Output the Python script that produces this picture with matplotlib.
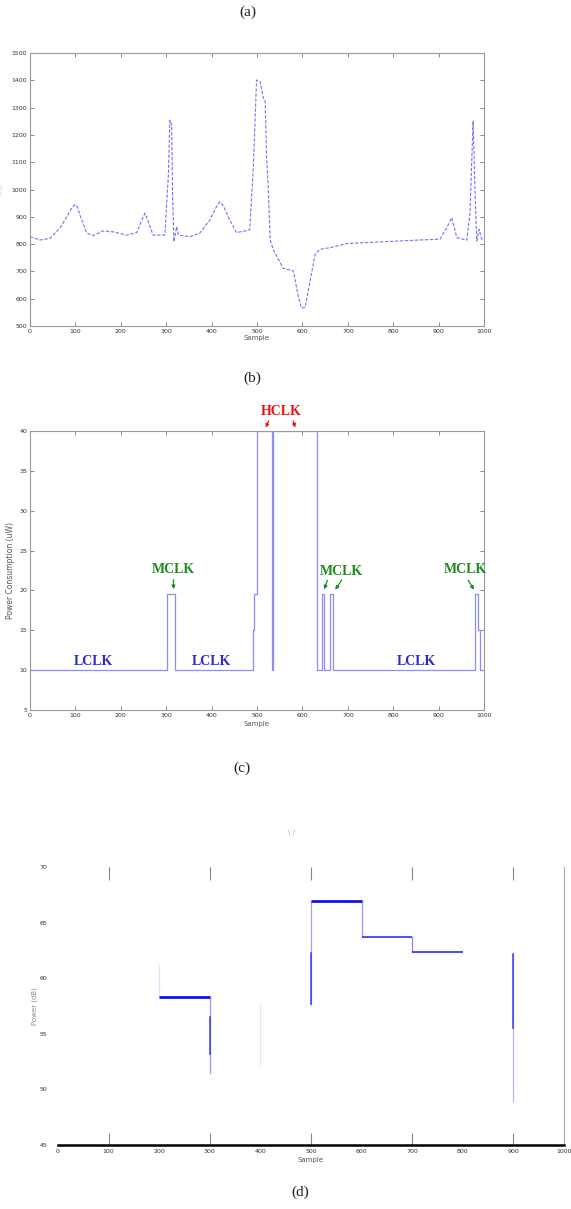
import matplotlib.pyplot as plt
import numpy as np

# (b) ECG-like trace, sample index vs value
ecg_x = [0, 22, 44, 66, 81, 91, 99, 105, 110, 125, 139, 161, 183, 213, 235, 248, 253,
         259, 271, 297, 305, 308, 312, 314, 317, 323, 327, 352, 374, 396, 410, 418,
         426, 440, 455, 484, 492, 499, 507, 514, 518, 521, 525, 529, 536, 558, 580,
         591, 598, 606, 617, 628, 639, 661, 698, 771, 844, 903, 918, 929, 940, 962,
         969, 973, 976, 980, 984, 989, 995, 1000]
ecg_y = [827, 815, 821, 858, 900, 930, 945, 935, 906, 840, 831, 848, 845, 833, 842, 895, 913,
         890, 833, 833, 1059, 1254, 1236, 986, 809, 864, 833, 827, 840, 888, 935, 955,
         940, 888, 842, 852, 1084, 1401, 1395, 1334, 1322, 1120, 1004, 815, 779, 711, 702,
         608, 566, 568, 665, 763, 781, 787, 802, 808, 814, 818, 860, 897, 824, 814,
         909, 1105, 1251, 1007, 811, 854, 818, 818]

# (c) power consumption steps (uW)
pc_x = [0, 302, 319, 491, 494, 499, 532, 536, 632, 643, 648, 661, 668, 980, 987, 992, 1000]
pc_y = [10, 19.6, 10, 15, 19.6, 40, 10, 40, 10, 19.6, 10, 19.6, 10, 19.6, 15, 10, 10]

# (d) power (dB) levels per block
blk_start = [200, 500, 600, 700]
blk_end = [300, 600, 700, 800]
blk_level = [58.3, 66.9, 63.7, 62.4]
vert_x = [200, 300, 400, 500, 600, 700, 900]
vert_lo = [58.3, 51.5, 52.1, 57.7, 63.7, 62.4, 49.0]
vert_hi = [61.2, 58.3, 57.7, 66.9, 66.9, 63.7, 62.2]
vert_alpha = [0.15, 0.5, 0.12, 0.45, 0.5, 0.6, 0.35]
dark_lo = [None, 53.2, None, 57.7, None, None, 55.5]
dark_hi = [None, 56.5, None, 62.3, None, None, 62.2]

xticks = np.arange(0, 1001, 100)
odd_ticks = [100, 300, 500, 700, 900]
even_ticks = [0, 200, 400, 600, 800, 1000]

fig = plt.figure(figsize=(5.71, 12.09), dpi=100)
serif = 'Liberation Serif'
tick_col = '#333333'


def matlab_axes(ax):
    for s in ax.spines.values():
        s.set_color('#999999')
        s.set_linewidth(0.8)
    ax.tick_params(direction='in', length=3, width=0.6, color='#777777',
                   labelsize=4.5, labelcolor=tick_col, top=True, right=True, pad=2)


# ---- (b)
ax1 = fig.add_axes([30/571, 1-326/1209, 454/571, 273/1209])
ax1.plot(ecg_x, ecg_y, color='#5a5aee', lw=0.8, ls=(0, (3, 1.5)), alpha=0.85)
ax1.set_xlim(0, 1000)
ax1.set_ylim(500, 1500)
ax1.set_xticks(xticks)
ax1.set_yticks(np.arange(500, 1501, 100))
matlab_axes(ax1)
ax1.set_xlabel('Sample', fontsize=5, color='#555555', labelpad=1)
ax1.set_ylabel('ECG', fontsize=4, color='#cccccc', labelpad=6)

# ---- (c)
ax2 = fig.add_axes([30/571, 1-710/1209, 454/571, 279/1209])
ax2.step(pc_x, pc_y, where='post', color='#8c8cff', lw=0.9)
ax2.set_xlim(0, 1000)
ax2.set_ylim(5, 40)
ax2.set_xticks(xticks)
ax2.set_yticks(np.arange(5, 41, 5))
matlab_axes(ax2)
ax2.set_xlabel('Sample', fontsize=5, color='#555555', labelpad=2)
ax2.set_ylabel('Power Consumption (uW)', fontsize=5.5, color='#555555', labelpad=3)

lclk = dict(color='#2a2ad0', fontsize=10, fontweight='bold', family=serif,
            ha='center', va='center')
ax2.text(139, 11.1, 'LCLK', **lclk)
ax2.text(400, 11.1, 'LCLK', **lclk)
ax2.text(852, 11.1, 'LCLK', **lclk)

green = '#1e8a1e'
mclk = dict(color=green, fontsize=10, fontweight='bold', family=serif,
            ha='center', va='center')
arw = dict(arrowstyle='-|>', color=green, lw=0.9, mutation_scale=5)
ax2.text(315, 22.6, 'MCLK', **mclk)
ax2.annotate('', xy=(316, 19.8), xytext=(316, 21.7), arrowprops=arw)
ax2.text(685, 22.4, 'MCLK', **mclk)
ax2.annotate('', xy=(646, 19.8), xytext=(657, 21.6), arrowprops=arw)
ax2.annotate('', xy=(669, 19.8), xytext=(690, 21.6), arrowprops=arw)
ax2.text(958, 22.6, 'MCLK', **mclk)
ax2.annotate('', xy=(981, 19.8), xytext=(962, 21.6), arrowprops=arw)

red = '#ee1111'
arr = dict(arrowstyle='-|>', color=red, lw=0.9, mutation_scale=5)
ax2.text(553, 42.4, 'HCLK', color=red, fontsize=10, fontweight='bold',
         family=serif, ha='center', va='center', clip_on=False)
ax2.annotate('', xy=(517, 40.1), xytext=(528, 41.6), arrowprops=arr,
             annotation_clip=False)
ax2.annotate('', xy=(586, 40.1), xytext=(578, 41.6), arrowprops=arr,
             annotation_clip=False)

# ---- (d)
ax3 = fig.add_axes([58/571, 1-1145/1209, 506/571, 278/1209])
for x0, x1, lv, i in zip(blk_start, blk_end, blk_level, range(4)):
    ax3.plot([x0, x1], [lv, lv], color='#1414e6' if i < 2 else '#4c4cff',
             lw=2.0 if i < 2 else 1.4, solid_capstyle='butt')
for x, lo, hi, a, dlo, dhi in zip(vert_x, vert_lo, vert_hi, vert_alpha, dark_lo, dark_hi):
    ax3.plot([x, x], [lo, hi], color='#3030ff', lw=0.9, alpha=a)
    if dlo is not None:
        ax3.plot([x, x], [dlo, dhi], color='#2020ee', lw=1.1, alpha=0.85)
ax3.set_xlim(0, 1000)
ax3.set_ylim(45, 70)
# in the scan only the odd hundreds keep a visible tick mark
ax3.set_xticks(odd_ticks, labels=[str(v) for v in odd_ticks])
ax3.set_xticks(even_ticks, labels=[str(v) for v in even_ticks], minor=True)
ax3.set_yticks(np.arange(45, 71, 5))
ax3.spines['left'].set_visible(False)
ax3.spines['top'].set_visible(False)
ax3.spines['right'].set_color('#aaaaaa')
ax3.spines['right'].set_linewidth(0.8)
ax3.spines['bottom'].set_color('black')
ax3.spines['bottom'].set_linewidth(1.8)
ax3.tick_params(axis='x', which='major', direction='in', length=9, width=0.8,
                color='#888888', top=True, labelsize=4.5, labelcolor=tick_col, pad=3)
ax3.tick_params(axis='x', which='minor', direction='in', length=0,
                top=False, labelsize=4.5, labelcolor=tick_col, pad=3)
ax3.tick_params(axis='y', left=False, right=False, labelsize=4.5,
                labelcolor=tick_col, pad=4)
ax3.set_xlabel('Sample', fontsize=5, color='#555555', labelpad=2)
ax3.set_ylabel('Power (dB)', fontsize=5, color='#888888', labelpad=1)

# panel captions
cap = dict(fontsize=11, family=serif, ha='center', va='center', color='#222222')
fig.text(248/571, 1-12/1209, '(a)', **cap)
fig.text(252/571, 1-378/1209, '(b)', **cap)
fig.text(242/571, 1-768/1209, '(c)', **cap)
fig.text(300/571, 1-1192/1209, '(d)', **cap)
fig.text(291/571, 1-833/1209, '\\ /', fontsize=5, color='#aaaaaa', ha='center', va='center')

fig.savefig('out.png', dpi=100)
